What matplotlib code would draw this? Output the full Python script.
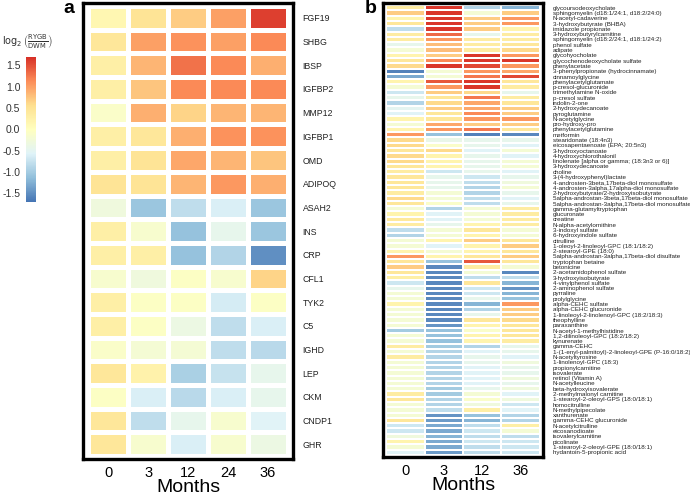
import numpy as np
import matplotlib
matplotlib.use("Agg")
import matplotlib.pyplot as plt
from matplotlib.colors import LinearSegmentedColormap

plt.rcParams['font.family'] = ['Liberation Sans', 'DejaVu Sans']

# pheatmap-style palette (rev RdYlBu, 7 classes)
palette = ["#4575b4", "#91bfdb", "#e0f3f8", "#ffffbf", "#fee090", "#fc8d59", "#d73027"]
cmap = LinearSegmentedColormap.from_list("rdylbu7", palette, N=256)
vmin, vmax = -1.7, 1.7

# ---- panel a: proteins ----
a_months = ["0", "3", "12", "24", "36"]
a_proteins = ["FGF19", "SHBG", "IBSP", "IGFBP2", "MMP12", "IGFBP1", "OMD", "ADIPOQ",
              "ASAH2", "INS", "CRP", "CFL1", "TYK2", "C5", "IGHD", "LEP", "CKM",
              "CNDP1", "GHR"]
a_m0 = [0.15, 0.45, 0.3, 0.3, -0.1, 0.3, 0.3, 0.5, -0.3, 0.3, 0.3, -0.15, 0.3, 0.3,
        -0.1, 0.45, -0.05, 0.45, 0.45]
a_m3 = [0.5, 1.0, 0.85, 0.75, 0.9, 0.45, 0.5, 0.5, -1.05, -0.15, 0.3, -0.3, -0.05,
        -0.05, -0.2, 0.25, -0.6, -0.8, -0.15]
a_m12 = [0.7, 1.1, 1.3, 1.15, 0.65, 0.9, 0.95, 0.85, -0.8, -1.1, -1.1, -0.05, -0.05,
         -0.35, -0.2, -0.95, -0.85, -0.45, -0.6]
a_m24 = [1.0, 1.0, 1.15, 1.15, 0.85, 1.1, 0.85, 1.05, -0.6, -0.45, -0.9, -0.15, -0.65,
         -0.8, -0.8, -0.75, -0.6, -0.15, -0.15]
a_m36 = [1.6, 1.15, 0.9, 1.15, 0.85, 1.1, 0.75, 0.9, -1.05, -1.05, -1.5, 0.65, -0.05,
         -0.6, -0.85, -0.45, -0.45, -0.55, -0.35]

# ---- panel b: metabolites ----
b_months = ["0", "3", "12", "36"]
b_metabolites = [
    "glycoursodeoxycholate", "sphingomyelin (d18:1/24:1, d18:2/24:0)", "N-acetyl-cadaverine",
    "3-hydroxybutyrate (BHBA)", "imidazole propionate", "3-hydroxybutyrylcarnitine",
    "sphingomyelin (d18:2/24:1, d18:1/24:2)", "phenol sulfate", "adipate", "glycohyocholate",
    "glycochenodeoxycholate sulfate", "phenylacetate", "3-phenylpropionate (hydrocinnamate)",
    "cinnamoylglycine", "phenylacetylglutamate", "p-cresol-glucuronide",
    "trimethylamine N-oxide", "p-cresol sulfate", "indolin-2-one", "2-hydroxydecanoate",
    "pyroglutamine", "N-acetylglycine", "pro-hydroxy-pro", "phenylacetylglutamine",
    "metformin", "stearidonate (18:4n3)", "eicosapentaenoate (EPA; 20:5n3)",
    "3-hydroxyoctanoate", "4-hydroxychlorothalonil",
    "linolenate [alpha or gamma; (18:3n3 or 6)]", "3-hydroxydecanoate", "choline",
    "3-(4-hydroxyphenyl)lactate", "4-androsten-3beta,17beta-diol monosulfate",
    "4-androsten-3alpha,17alpha-diol monosulfate", "2-hydroxybutyrate/2-hydroxyisobutyrate",
    "5alpha-androstan-3beta,17beta-diol monosulfate",
    "5alpha-androstan-3alpha,17beta-diol monosulfate", "gamma-glutamyltryptophan",
    "glucuronate", "creatine", "N-alpha-acetylornithine", "3-indoxyl sulfate",
    "6-hydroxyindole sulfate", "citrulline", "1-oleoyl-2-linoleoyl-GPC (18:1/18:2)",
    "2-stearoyl-GPE (18:0)", "5alpha-androstan-3alpha,17beta-diol disulfate",
    "tryptophan betaine", "betonicine", "2-acetamidophenol sulfate", "3-hydroxyisobutyrate",
    "4-vinylphenol sulfate", "2-aminophenol sulfate", "pyrraline", "prolylglycine",
    "alpha-CEHC sulfate", "alpha-CEHC glucuronide", "1-linoleoyl-2-linolenoyl-GPC (18:2/18:3)",
    "theophylline", "paraxanthine", "N-acetyl-1-methylhistidine",
    "1,2-dilinoleoyl-GPC (18:2/18:2)", "kynurenate", "gamma-CEHC",
    "1-(1-enyl-palmitoyl)-2-linoleoyl-GPE (P-16:0/18:2)", "N-acetyltyrosine",
    "1-linolenoyl-GPC (18:3)", "propionylcarnitine", "isovalerate", "retinol (Vitamin A)",
    "N-acetylleucine", "beta-hydroxyisovalerate", "2-methylmalonyl carnitine",
    "1-stearoyl-2-oleoyl-GPS (18:0/18:1)", "homocitrulline", "N-methylpipecolate",
    "xanthurenate", "gamma-CEHC glucuronide", "N-acetylcitrulline", "eicosanodioate",
    "isovalerylcarnitine", "picolinate", "1-stearoyl-2-oleoyl-GPE (18:0/18:1)",
    "hydantoin-5-propionic acid"]
b_m0 = [0.35, 0.7, 0.2, 0.45, -0.8, 0.35, 0.35, -0.45, -0.2, 0.2,
        0.45, 0.6, -1.6, -1.3, 0.2, -0.2, -0.7, -0.45, -0.9, -0.5,
        -0.55, 0.2, -0.2, 0.2, 1.05, 0.6, 0.6, 0.45, 0.6, 0.6,
        0.45, 0.35, 0.45, 0.45, 0.45, 0.35, 0.6, 0.45, -0.2, 0.2,
        0.4, 0.35, -0.8, -0.9, -0.2, -0.2, 0.2, 1.05, 0.45, 0.7,
        0.45, 0.3, -0.7, -0.45, -0.2, -0.2, 0.2, -0.2, -0.2, -0.2,
        -0.2, -1.0, -0.2, -0.2, 0.35, -0.2, 0.35, -0.2, -0.2, -0.2,
        -0.2, -0.2, -0.2, 0.35, 0.45, -0.2, -0.2, -0.2, 0.45, -0.7,
        -0.7, -0.3, 0.2, -0.2, -0.55]
b_m3 = [1.65, 1.65, 1.65, 1.65, 1.65, 1.35, 1.05, 0.8, 0.8, 0.7,
        1.15, 1.65, -0.2, -0.2, 1.45, 1.05, 0.7, 0.45, 0.6, 0.7,
        0.45, 0.45, 0.95, 1.05, -1.1, -0.4, -0.1, 0.6, 0.2, 0.2,
        0.2, -0.7, -0.45, -0.45, -0.45, -0.2, -0.2, -0.1, -0.9, -0.55,
        -0.55, -0.45, -0.2, -0.2, 0.2, -0.55, -0.2, 0.2, -1.1, -1.55,
        -1.55, -1.55, -1.55, -1.55, -1.55, -1.55, -1.55, -1.55, -1.55, -1.55,
        -1.45, -1.1, -1.1, -1.1, -1.0, -0.9, -0.9, -0.9, -0.9, -0.9,
        -0.9, -0.9, -1.0, -1.0, -0.9, -0.9, -0.8, -1.45, -1.4, -1.3,
        -1.3, -1.2, -1.3, -1.3, -1.4]
b_m12 = [-0.9, -0.2, 0.7, 0.7, 0.7, -0.45, 0.35, 0.35, 0.35, 1.65,
         1.65, 1.55, 1.05, 1.25, 1.65, 1.65, 0.6, 1.25, 0.95, 0.95,
         1.15, 1.05, 0.7, 1.25, -1.6, -0.45, -0.45, -0.55, -0.45, -0.45,
         -0.45, -0.45, -0.7, -0.8, -0.9, -0.9, -0.8, -0.8, -0.2, -0.2,
         -0.2, 0.2, 0.45, 0.2, 0.7, 0.2, 0.2, 0.45, 1.45, 0.35,
         -0.2, -0.8, 0.45, -0.7, -0.7, -0.45, -1.2, -0.9, -0.45, 0.45,
         0.2, -0.1, 0.2, 0.2, -0.9, -0.55, -0.45, -0.45, -0.55, -0.55,
         -0.55, -0.55, -0.45, -0.2, -0.1, -0.3, 0.3, -1.1, -1.2, -0.8,
         -0.7, -0.8, -0.7, -0.8, -0.8]
b_m36 = [-1.2, 0.7, 1.05, 1.05, 0.2, 0.35, 0.35, 0.45, 0.6, 1.05,
         1.65, 1.05, 0.95, 1.55, 0.45, 0.35, -0.45, 0.35, 0.45, 0.7,
         0.7, 1.05, 0.7, 0.45, -1.55, -0.45, -0.55, -0.2, -0.55, -0.2,
         -0.2, -0.55, -0.45, -0.3, -0.2, -0.45, -0.55, -0.45, 0.35, 0.35,
         0.35, 0.35, -0.2, -0.2, 0.45, 0.7, 0.45, 0.7, 0.45, -0.2,
         -1.55, -0.8, -1.2, -1.45, -1.2, -1.1, 1.05, 0.7, 0.7, 0.6,
         0.45, 0.45, 0.45, 0.35, -0.45, -0.45, -0.55, -0.3, -0.45, -0.45,
         -0.3, -0.45, -0.3, -0.55, -0.3, -0.7, -0.55, -0.9, -0.9, 0.3,
         -0.2, -0.8, -0.7, -0.7, -0.7]


def draw_heatmap(ax, values, row_labels, col_labels, gap, label_size, pad_x, pad_y):
    n_rows, n_cols = values.shape
    ax.pcolormesh(np.arange(n_cols + 1), np.arange(n_rows + 1), values,
                  cmap=cmap, vmin=vmin, vmax=vmax,
                  edgecolors='white', linewidth=gap)
    ax.set_xlim(-pad_x, n_cols + pad_x)
    ax.set_ylim(n_rows + pad_y, -pad_y)
    ax.set_xticks(np.arange(n_cols) + 0.5)
    ax.set_xticklabels(col_labels, fontsize=10.5)
    ax.set_yticks(np.arange(n_rows) + 0.5)
    ax.set_yticklabels(row_labels, fontsize=label_size, color='#222222')
    ax.yaxis.tick_right()
    ax.tick_params(axis='x', length=0, pad=5)
    ax.tick_params(axis='y', length=0, pad=7)
    for spine in ax.spines.values():
        spine.set_linewidth(2.4)
        spine.set_color('black')
    ax.set_xlabel('Months', fontsize=14, labelpad=-1)


fig = plt.figure(figsize=(6.9, 4.97), dpi=100)

ax_a = fig.add_axes([0.1203, 0.0764, 0.3043, 0.9175])
vals_a = np.column_stack([a_m0, a_m3, a_m12, a_m24, a_m36])
draw_heatmap(ax_a, vals_a, a_proteins, a_months, 2.2, 6.3, 0.13, 0.13)

ax_b = fig.add_axes([0.555, 0.0805, 0.232, 0.9135])
vals_b = np.column_stack([b_m0, b_m3, b_m12, b_m36])
draw_heatmap(ax_b, vals_b, b_metabolites, b_months, 1.1, 4.5, 0.08, 0.4)

# colorbar
cax = fig.add_axes([0.0377, 0.5936, 0.0145, 0.2918])
sm = matplotlib.cm.ScalarMappable(cmap=cmap, norm=plt.Normalize(vmin, vmax))
cb = fig.colorbar(sm, cax=cax)
cb.outline.set_visible(False)
cb.set_ticks([-1.5, -1.0, -0.5, 0.0, 0.5, 1.0, 1.5])
cb.set_ticklabels(['-1.5', '-1.0', '-0.5', '0.0', '0.5', '1.0', '1.5'])
cax.yaxis.set_ticks_position('left')
cax.tick_params(length=0, pad=4, labelsize=7.5, labelcolor='#333333')
fig.text(0.003, 0.915, r'$\log_2\left(\frac{\mathrm{RYGB}}{\mathrm{DWM}}\right)$',
         ha='left', va='center', fontsize=7, color='#333333')

fig.text(0.092, 0.983, 'a', fontsize=14, fontweight='bold', ha='left', va='center')
fig.text(0.528, 0.983, 'b', fontsize=14, fontweight='bold', ha='left', va='center')

fig.savefig('out.png', dpi=100)
